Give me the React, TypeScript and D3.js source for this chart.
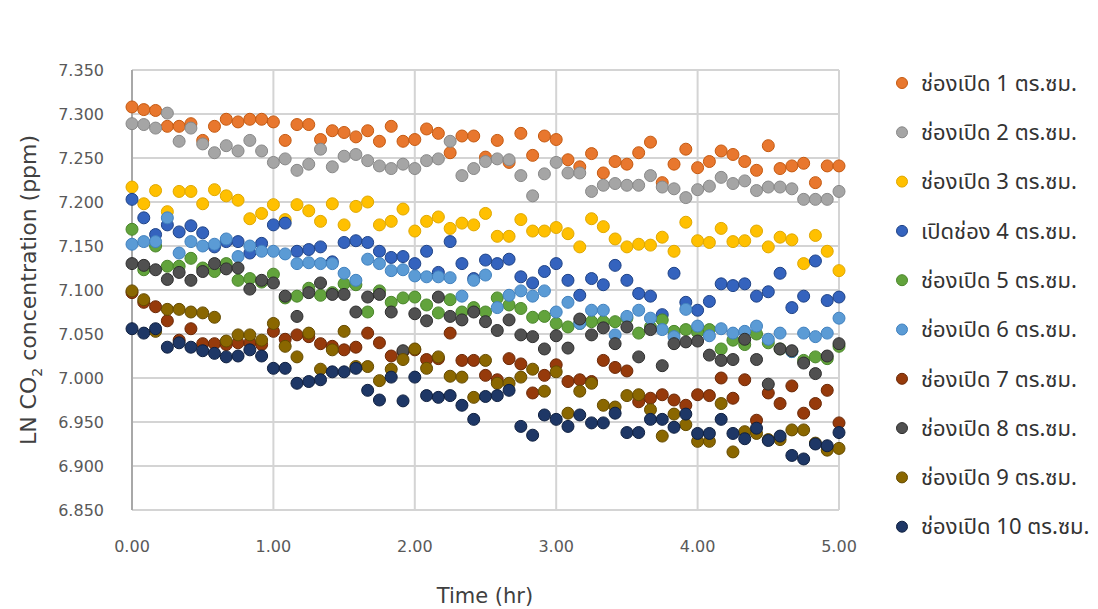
import React from "react";
import * as d3 from "d3";

const seriesNames = [
  "ช่องเปิด 1 ตร.ซม.",
  "ช่องเปิด 2 ตร.ซม.",
  "ช่องเปิด 3 ตร.ซม.",
  "เปิดช่อง 4 ตร.ซม.",
  "ช่องเปิด 5 ตร.ซม.",
  "ช่องเปิด 6 ตร.ซม.",
  "ช่องเปิด 7 ตร.ซม.",
  "ช่องเปิด 8 ตร.ซม.",
  "ช่องเปิด 9 ตร.ซม.",
  "ช่องเปิด 10 ตร.ซม.",
];

const fills = ["#E8772E", "#A5A5A5", "#FFC000", "#3463BE", "#62A33C", "#5B9BD5", "#963A0B", "#505050", "#8A6700", "#1E3766"];
const strokes = ["#C55A11", "#888888", "#E0A800", "#1F4387", "#4A862A", "#4282BF", "#6B2806", "#2E2E2E", "#654B00", "#0F2040"];

// time in hours: every 5 minutes, 0..5 h
const times = [
  0, 0.0833, 0.1667, 0.25, 0.3333, 0.4167, 0.5, 0.5833, 0.6667, 0.75, 0.8333, 0.9167,
  1, 1.0833, 1.1667, 1.25, 1.3333, 1.4167, 1.5, 1.5833, 1.6667, 1.75, 1.8333, 1.9167,
  2, 2.0833, 2.1667, 2.25, 2.3333, 2.4167, 2.5, 2.5833, 2.6667, 2.75, 2.8333, 2.9167,
  3, 3.0833, 3.1667, 3.25, 3.3333, 3.4167, 3.5, 3.5833, 3.6667, 3.75, 3.8333, 3.9167,
  4, 4.0833, 4.1667, 4.25, 4.3333, 4.4167, 4.5, 4.5833, 4.6667, 4.75, 4.8333, 4.9167, 5,
];

const s1 = [7.308, 7.305, 7.304, 7.286, 7.286, 7.289, 7.270, 7.286, 7.294, 7.291, 7.294, 7.294, 7.291, 7.270, 7.288, 7.288,
  7.271, 7.281, 7.279, 7.274, 7.281, 7.269, 7.286, 7.269, 7.271, 7.283, 7.278, 7.256, 7.275, 7.275, 7.251,
  7.270, 7.245, 7.278, 7.253, 7.275, 7.271, 7.248, 7.240, 7.255, 7.233, 7.246, 7.243, 7.256, 7.268, 7.222,
  7.243, 7.260, 7.239, 7.246, 7.258, 7.254, 7.246, 7.236, 7.264, 7.238, 7.241, 7.244, 7.222, 7.241, 7.241];
const s2 = [7.289, 7.288, 7.284, 7.301, 7.269, 7.284, 7.266, 7.256, 7.264, 7.258, 7.270, 7.258, 7.245, 7.249, 7.236, 7.243,
  7.260, 7.240, 7.252, 7.254, 7.247, 7.241, 7.238, 7.243, 7.238, 7.247, 7.249, 7.269, 7.230, 7.238, 7.246,
  7.249, 7.248, 7.230, 7.207, 7.232, 7.245, 7.233, 7.233, 7.212, 7.219, 7.221, 7.219, 7.219, 7.230, 7.217,
  7.215, 7.205, 7.214, 7.218, 7.228, 7.221, 7.224, 7.213, 7.217, 7.217, 7.215, 7.203, 7.203, 7.203, 7.212];
const s3 = [7.217, 7.198, 7.213, 7.189, 7.212, 7.212, 7.198, 7.214, 7.207, 7.202, 7.181, 7.187, 7.197, 7.180, 7.197, 7.190,
  7.178, 7.198, 7.174, 7.195, 7.200, 7.174, 7.178, 7.192, 7.167, 7.178, 7.183, 7.170, 7.176, 7.174, 7.187,
  7.161, 7.161, 7.180, 7.167, 7.167, 7.171, 7.164, 7.149, 7.181, 7.172, 7.158, 7.149, 7.152, 7.151, 7.160,
  7.144, 7.177, 7.156, 7.154, 7.170, 7.155, 7.156, 7.167, 7.149, 7.160, 7.157, 7.130, 7.162, 7.144, 7.122];
const s4 = [7.203, 7.182, 7.163, 7.174, 7.166, 7.173, 7.165, 7.149, 7.155, 7.155, 7.142, 7.153, 7.174, 7.176, 7.144, 7.146,
  7.149, 7.132, 7.154, 7.156, 7.154, 7.144, 7.137, 7.138, 7.130, 7.144, 7.120, 7.155, 7.130, 7.113, 7.134,
  7.130, 7.135, 7.115, 7.108, 7.121, 7.130, 7.111, 7.094, 7.113, 7.106, 7.128, 7.111, 7.096, 7.093, 7.072,
  7.119, 7.086, 7.077, 7.087, 7.107, 7.105, 7.107, 7.093, 7.098, 7.119, 7.080, 7.093, 7.133, 7.088, 7.092];
const s5 = [7.169, 7.123, 7.150, 7.127, 7.127, 7.136, 7.125, 7.121, 7.130, 7.111, 7.113, 7.109, 7.118, 7.091, 7.093, 7.102,
  7.094, 7.097, 7.107, 7.106, 7.075, 7.099, 7.086, 7.091, 7.092, 7.083, 7.074, 7.089, 7.075, 7.080, 7.075,
  7.091, 7.083, 7.079, 7.069, 7.070, 7.062, 7.058, 7.062, 7.064, 7.064, 7.064, 7.068, 7.051, 7.058, 7.066,
  7.053, 7.055, 7.052, 7.055, 7.033, 7.043, 7.038, 7.050, 7.040, 7.033, 7.030, 7.020, 7.024, 7.022, 7.036];
const s6 = [7.152, 7.155, 7.155, 7.182, 7.142, 7.155, 7.150, 7.152, 7.158, 7.138, 7.150, 7.144, 7.144, 7.141, 7.130, 7.131,
  7.130, 7.130, 7.119, 7.111, 7.135, 7.130, 7.122, 7.123, 7.116, 7.115, 7.115, 7.114, 7.093, 7.111, 7.117,
  7.080, 7.094, 7.099, 7.093, 7.099, 7.075, 7.086, 7.062, 7.077, 7.077, 7.049, 7.070, 7.077, 7.068, 7.055,
  7.047, 7.078, 7.059, 7.048, 7.056, 7.051, 7.053, 7.059, 7.044, 7.051, 7.030, 7.051, 7.047, 7.051, 7.068];
const s7 = [7.097, 7.086, 7.081, 7.065, 7.043, 7.056, 7.039, 7.039, 7.038, 7.040, 7.040, 7.038, 7.053, 7.044, 7.049, 7.047,
  7.039, 7.036, 7.032, 7.035, 7.051, 7.040, 7.025, 7.030, 7.032, 7.021, 7.022, 7.051, 7.020, 7.020, 7.003,
  6.998, 7.022, 7.016, 6.983, 7.003, 7.015, 6.996, 6.998, 6.996, 7.020, 7.012, 7.008, 6.973, 6.977, 6.981,
  6.975, 6.969, 6.981, 6.980, 7.000, 6.977, 6.998, 6.952, 6.983, 6.971, 6.991, 6.960, 6.971, 6.986, 6.949];
const s8 = [7.130, 7.128, 7.123, 7.112, 7.120, 7.111, 7.121, 7.130, 7.124, 7.125, 7.101, 7.111, 7.108, 7.093, 7.070, 7.097,
  7.108, 7.095, 7.095, 7.075, 7.092, 7.095, 7.075, 7.031, 7.073, 7.065, 7.092, 7.070, 7.066, 7.075, 7.064,
  7.054, 7.066, 7.049, 7.047, 7.033, 7.048, 7.034, 7.067, 7.049, 7.057, 7.039, 7.058, 7.024, 7.055, 7.014,
  7.039, 7.041, 7.042, 7.026, 7.020, 7.021, 7.044, 7.021, 6.993, 7.033, 7.031, 7.017, 7.005, 7.025, 7.039];
const s9 = [7.099, 7.089, 7.053, 7.078, 7.078, 7.075, 7.074, 7.069, 7.042, 7.049, 7.049, 7.043, 7.062, 7.036, 7.024, 7.051,
  7.010, 7.032, 7.053, 7.013, 7.013, 6.997, 7.010, 7.021, 7.033, 7.011, 7.024, 7.002, 7.001, 6.978, 7.020,
  6.994, 6.994, 7.001, 7.010, 6.985, 7.007, 6.960, 6.985, 6.994, 6.969, 6.967, 6.980, 6.981, 6.964, 6.934,
  6.959, 6.947, 6.928, 6.928, 6.971, 6.916, 6.939, 6.937, 6.930, 6.930, 6.941, 6.941, 6.926, 6.918, 6.920];
const s10 = [7.056, 7.051, 7.056, 7.035, 7.040, 7.035, 7.031, 7.028, 7.024, 7.025, 7.032, 7.025, 7.011, 7.011, 6.994, 6.996,
  6.998, 7.007, 7.007, 7.011, 6.986, 6.975, 7.001, 6.974, 7.001, 6.980, 6.978, 6.980, 6.969, 6.953, 6.979,
  6.980, 6.986, 6.945, 6.935, 6.958, 6.953, 6.945, 6.958, 6.949, 6.949, 6.960, 6.938, 6.938, 6.953, 6.953,
  6.944, 6.959, 6.937, 6.937, 6.953, 6.937, 6.931, 6.943, 6.929, 6.934, 6.912, 6.908, 6.925, 6.923, 6.938];

const seriesValues = [s1, s2, s3, s4, s5, s6, s7, s8, s9, s10];

const yTicks = [7.35, 7.3, 7.25, 7.2, 7.15, 7.1, 7.05, 7.0, 6.95, 6.9, 6.85];
const xTicks = [0, 1, 2, 3, 4, 5];

const W = 1098;
const H = 609;
const plot = { left: 132, right: 839, top: 70, bottom: 510 };

export default function App() {
  const x = d3.scaleLinear().domain([0, 5]).range([plot.left, plot.right]);
  const y = d3.scaleLinear().domain([6.85, 7.35]).range([plot.bottom, plot.top]);
  const fmtY = d3.format(".3f");
  const fmtX = d3.format(".2f");
  const tickFont = "'DejaVu Sans', 'Noto Sans', sans-serif";
  const thaiFont = "'Noto Sans Thai', 'Noto Sans Thai UI', 'Tahoma', 'Loma', 'Garuda', 'Noto Sans', sans-serif";

  return (
    <svg
      width={W}
      height={H}
      style={{ position: "fixed", left: 0, top: 0, background: "#fff", display: "block" }}
    >
      <rect x={0} y={0} width={W} height={H} fill="#ffffff" />
      {/* horizontal grid */}
      {yTicks.map((t) => (
        <line key={"gy" + t} x1={plot.left} x2={plot.right} y1={y(t)} y2={y(t)} stroke="#D4D4D4" strokeWidth={2} />
      ))}
      {/* vertical grid */}
      {xTicks.map((t) => (
        <line
          key={"gx" + t}
          x1={x(t)}
          x2={x(t)}
          y1={plot.top}
          y2={plot.bottom}
          stroke={t === 0 ? "#A8A8A8" : "#D4D4D4"}
          strokeWidth={2}
        />
      ))}
      {/* y tick labels */}
      {yTicks.map((t) => (
        <text
          key={"ty" + t}
          x={104}
          y={y(t)}
          dy="0.35em"
          textAnchor="end"
          fontFamily={tickFont}
          fontSize={16}
          fill="#595959"
        >
          {fmtY(t)}
        </text>
      ))}
      {/* x tick labels */}
      {xTicks.map((t) => (
        <text
          key={"tx" + t}
          x={x(t)}
          y={552}
          textAnchor="middle"
          fontFamily={tickFont}
          fontSize={16}
          fill="#595959"
        >
          {fmtX(t)}
        </text>
      ))}
      {/* axis titles */}
      <text x={485} y={603} textAnchor="middle" fontFamily={tickFont} fontSize={21} fill="#404040">
        Time (hr)
      </text>
      <text
        transform={`translate(36, ${(plot.top + plot.bottom) / 2}) rotate(-90)`}
        textAnchor="middle"
        fontFamily={tickFont}
        fontSize={22}
        fill="#404040"
      >
        LN CO<tspan fontSize={14} dy={6}>2</tspan>
        <tspan dy={-6}> concentration (ppm)</tspan>
      </text>
      {/* points */}
      {seriesValues.map((vals, si) => (
        <g key={"s" + si}>
          {vals.map((v, i) => (
            <circle
              key={i}
              cx={x(times[i])}
              cy={y(v)}
              r={6}
              fill={fills[si]}
              stroke={strokes[si]}
              strokeWidth={1}
            />
          ))}
        </g>
      ))}
      {/* legend */}
      {seriesNames.map((name, si) => {
        const ly = 83 + si * 49.3;
        return (
          <g key={"l" + si}>
            <circle cx={902} cy={ly} r={5.5} fill={fills[si]} stroke={strokes[si]} strokeWidth={1} />
            <text x={921} y={ly} dy="0.35em" fontFamily={thaiFont} fontSize={22} fill="#333333">
              {name}
            </text>
          </g>
        );
      })}
    </svg>
  );
}
